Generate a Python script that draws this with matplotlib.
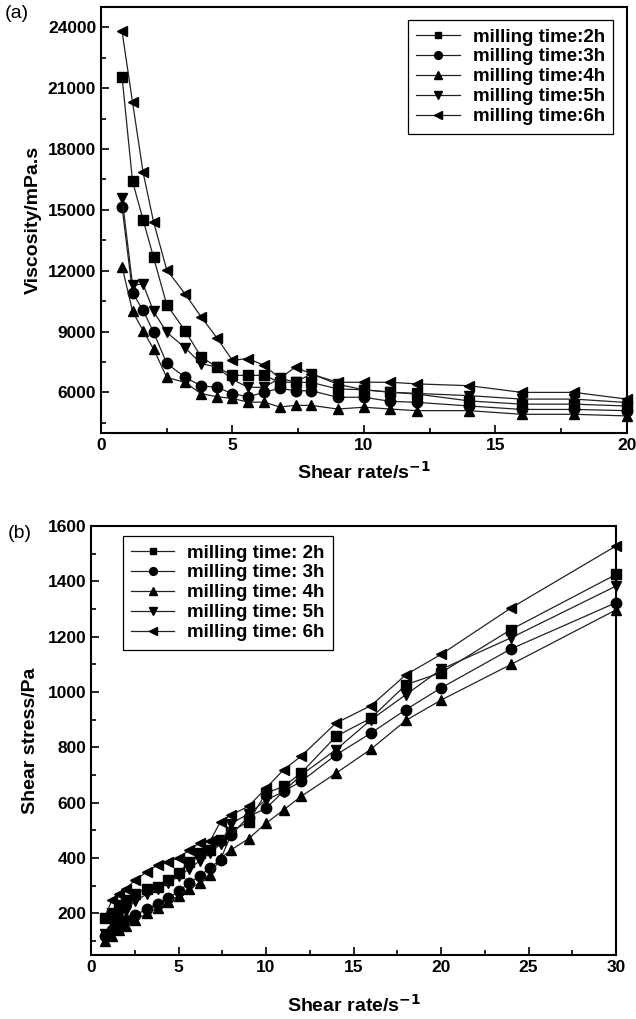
import matplotlib

matplotlib.use("Agg")
import matplotlib.pyplot as plt
from matplotlib.ticker import MultipleLocator

plt.rcParams["font.family"] = ["Liberation Sans", "DejaVu Sans"]

# (a) viscosity vs shear rate
rate_a = [0.8, 1.2, 1.6, 2.0, 2.5, 3.2, 3.8, 4.4, 5.0, 5.6, 6.2, 6.8, 7.4, 8.0,
          9.0, 10.0, 11.0, 12.0, 14.0, 16.0, 18.0, 20.0]
visc_2h = [21560, 16400, 14510, 12650, 10320, 9040, 7760, 7250, 6840, 6840, 6840,
           6500, 6500, 6490, 6170, 6130, 6010, 5920, 5580, 5420, 5420, 5330]
visc_3h = [15150, 10900, 10050, 8960, 7430, 6740, 6330, 6250, 5940, 5780, 6010,
           6200, 6080, 6080, 5760, 5760, 5560, 5510, 5330, 5160, 5160, 5100]
visc_4h = [12200, 10000, 9040, 8140, 6740, 6490, 5940, 5790, 5700, 5520, 5520,
           5280, 5360, 5360, 5180, 5270, 5180, 5100, 5100, 4920, 4920, 4840]
visc_5h = [15600, 11300, 11340, 9990, 8960, 8200, 7420, 7250, 6630, 6250, 6250,
           6700, 6500, 6920, 6400, 6130, 6010, 5950, 5840, 5670, 5670, 5500]
visc_6h = [23800, 20300, 16850, 14400, 12040, 10850, 9740, 8700, 7580, 7670, 7330,
           6700, 7250, 6900, 6500, 6500, 6500, 6420, 6330, 6000, 6000, 5670]

# (b) shear stress vs shear rate
rate_b = [0.8, 1.2, 1.6, 2.0, 2.5, 3.2, 3.8, 4.4, 5.0, 5.6, 6.2, 6.8, 7.4, 8.0,
          9.0, 10.0, 11.0, 12.0, 14.0, 16.0, 18.0, 20.0, 24.0, 30.0]
stress_2h = [182, 200, 230, 250, 272, 290, 295, 320, 345, 387, 417, 430, 466, 496,
             532, 635, 659, 707, 840, 906, 1027, 1070, 1226, 1425]
stress_3h = [120, 140, 160, 175, 195, 215, 235, 255, 280, 310, 335, 365, 395, 484,
             550, 580, 641, 677, 773, 852, 937, 1015, 1156, 1323]
stress_4h = [100, 120, 140, 155, 175, 200, 220, 240, 265, 290, 310, 340, 399, 430,
             470, 526, 574, 623, 707, 794, 898, 971, 1100, 1297]
stress_5h = [125, 165, 190, 210, 245, 270, 290, 310, 335, 360, 390, 420, 450, 525,
             560, 610, 640, 700, 792, 900, 991, 1082, 1196, 1383]
stress_6h = [190, 248, 270, 290, 320, 351, 375, 387, 400, 429, 454, 461, 532, 556,
             587, 653, 719, 768, 888, 951, 1063, 1136, 1304, 1528]

markers = ["s", "o", "^", "v", "<"]
labels_a = [f"milling time:{h}h" for h in range(2, 7)]
labels_b = [f"milling time: {h}h" for h in range(2, 7)]


def style_axis(axis):
    for spine in axis.spines.values():
        spine.set_linewidth(1.5)
    axis.tick_params(which="both", direction="in", top=False, right=False,
                     labelsize=12.5, width=1.2)
    axis.tick_params(which="major", length=6)
    axis.tick_params(which="minor", length=3.5)
    for label in axis.get_xticklabels() + axis.get_yticklabels():
        label.set_fontweight("bold")


def add_legend(axis, anchor):
    legend = axis.legend(loc="upper left", bbox_to_anchor=anchor,
                         bbox_transform=figure.transFigure, fancybox=False,
                         edgecolor="black", framealpha=1, borderaxespad=0,
                         prop={"weight": "bold", "size": 13.5}, handlelength=2.3,
                         handletextpad=0.7, labelspacing=0.15, borderpad=0.45,
                         markerscale=0.75)
    legend.get_frame().set_linewidth(0.9)


figure = plt.figure(figsize=(6.36, 10.19), dpi=100)
axis_a = figure.add_axes([0.1588, 0.5751, 0.8270, 0.4181])
axis_b = figure.add_axes([0.1431, 0.0628, 0.8255, 0.4210])

for series, marker, label in zip(
    [visc_2h, visc_3h, visc_4h, visc_5h, visc_6h], markers, labels_a
):
    axis_a.plot(rate_a, series, color="#222222", linewidth=0.9, marker=marker,
                markersize=7.5 if marker != "s" else 6.5, markerfacecolor="black",
                markeredgecolor="black", label=label, clip_on=False)

axis_a.set_xlim(0, 20)
axis_a.set_ylim(4000, 25000)
axis_a.xaxis.set_major_locator(MultipleLocator(5))
axis_a.xaxis.set_minor_locator(MultipleLocator(2.5))
axis_a.set_yticks([6000, 9000, 12000, 15000, 18000, 21000, 24000])
axis_a.yaxis.set_minor_locator(MultipleLocator(1500))
style_axis(axis_a)
axis_a.set_xlabel("Shear rate/s$^{\\mathbf{-1}}$", fontsize=14, fontweight="bold",
                  labelpad=6)
axis_a.set_ylabel("Viscosity/mPa.s", fontsize=14, fontweight="bold", labelpad=4)
add_legend(axis_a, (0.6415, 0.9804))

for series, marker, label in zip(
    [stress_2h, stress_3h, stress_4h, stress_5h, stress_6h], markers, labels_b
):
    axis_b.plot(rate_b, series, color="#222222", linewidth=0.9, marker=marker,
                markersize=7.5 if marker != "s" else 6.5, markerfacecolor="black",
                markeredgecolor="black", label=label, clip_on=False)

axis_b.set_xlim(0, 30)
axis_b.set_ylim(50, 1600)
axis_b.xaxis.set_major_locator(MultipleLocator(5))
axis_b.xaxis.set_minor_locator(MultipleLocator(2.5))
axis_b.set_yticks(range(200, 1601, 200))
axis_b.yaxis.set_minor_locator(MultipleLocator(100))
style_axis(axis_b)
axis_b.set_xlabel("Shear rate/s$^{\\mathbf{-1}}$", fontsize=14, fontweight="bold",
                  labelpad=14)
axis_b.set_ylabel("Shear stress/Pa", fontsize=14, fontweight="bold", labelpad=6)
add_legend(axis_b, (0.1929, 0.4740))

figure.text(0.008, 0.982, "(a)", fontsize=14)
figure.text(0.012, 0.472, "(b)", fontsize=14)

figure.savefig("out.png", dpi=100)
plt.close(figure)
